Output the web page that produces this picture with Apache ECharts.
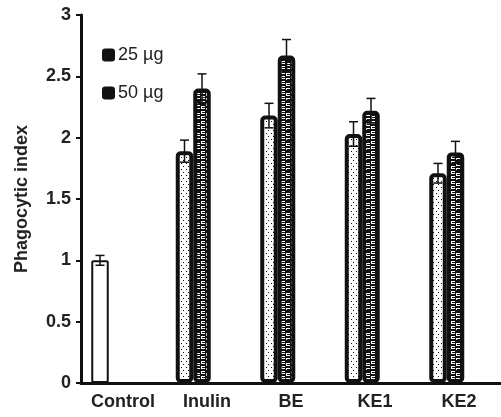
<!DOCTYPE html>
<html><head><meta charset="utf-8">
<script src="https://cdn.jsdelivr.net/npm/echarts@6/dist/echarts.min.js"></script>
<style>html,body{margin:0;padding:0;background:#fff}#c{width:501px;height:417px}</style>
</head><body><div id="c"></div>
<script>
const categories = ['Control', 'Inulin', 'BE', 'KE1', 'KE2'];
const controlValue = 1.00, controlErr = 0.04;
const dose25 = [null, 1.89, 2.18, 2.03, 1.71];
const dose25Err = [null, 0.09, 0.10, 0.10, 0.08];
const dose50 = [null, 2.40, 2.67, 2.22, 1.88];
const dose50Err = [null, 0.12, 0.13, 0.10, 0.09];
const yTicks = [0, 0.5, 1, 1.5, 2, 2.5, 3];
const seriesNames = ['25 µg', '50 µg'];

function makeDots() {
  const c = document.createElement('canvas'); c.width = 5; c.height = 6;
  const g = c.getContext('2d');
  g.fillStyle = '#fff'; g.fillRect(0, 0, 5, 6);
  g.fillStyle = '#111';
  g.fillRect(1, 1, 1, 1); g.fillRect(3, 4, 1, 1);
  return c;
}
function makeSquares() {
  const c = document.createElement('canvas'); c.width = 10; c.height = 10;
  const g = c.getContext('2d');
  g.fillStyle = '#111'; g.fillRect(0, 0, 10, 10);
  function sq(x, y) {
    g.fillStyle = '#fff'; g.fillRect(x, y, 4, 3);
    g.fillStyle = '#111'; g.fillRect(x + 1, y + 1, 3, 1);
  }
  sq(1, 1); sq(1, 6); sq(6, 3); sq(6, 8);
  return c;
}
const dotPattern = { image: makeDots(), repeat: 'repeat' };
const squarePattern = { image: makeSquares(), repeat: 'repeat' };

const BAR_W = 17.5, BAR_GAP = 0;
const slotOffset = BAR_W * (1 + BAR_GAP) / 2;

const data25 = dose25.map((v, i) => i === 0
  ? { value: controlValue, itemStyle: { color: '#fff', borderWidth: 2, borderRadius: 1 } }
  : v);
const err25 = dose25.map((v, i) => i === 0 ? [i, controlValue, controlErr] : [i, v, dose25Err[i]]);
const err50 = dose50.map((v, i) => v == null ? null : [i, v, dose50Err[i]]).filter(d => d);

function errRender(offset) {
  return function (params, api) {
    const x = api.coord([api.value(0), 0])[0] + offset;
    const yHi = api.coord([0, api.value(1) + api.value(2)])[1];
    const yLo = api.coord([0, api.value(1) - api.value(2)])[1];
    const st = { stroke: '#111', lineWidth: 1.5 };
    return { type: 'group', children: [
      { type: 'line', shape: { x1: x, y1: yHi, x2: x, y2: yLo }, style: st },
      { type: 'line', shape: { x1: x - 4.5, y1: yHi, x2: x + 4.5, y2: yHi }, style: st },
      { type: 'line', shape: { x1: x - 4.5, y1: yLo, x2: x + 4.5, y2: yLo }, style: st }
    ]};
  };
}

const font = 'Liberation Sans, Arial, Helvetica, sans-serif';
const chart = echarts.init(document.getElementById('c'), null, { renderer: 'canvas' });
chart.setOption({
  animation: false,
  backgroundColor: '#fff',
  grid: [
    { left: 81, right: -2.5, top: 15, bottom: 34 },
    { left: 66.5, right: 12, top: 15, bottom: 34 }
  ],
  legend: {
    orient: 'vertical', left: 97, top: 41, itemWidth: 13, itemHeight: 13,
    itemGap: 20, icon: 'roundRect',
    textStyle: { fontFamily: font, fontSize: 18, color: '#222', padding: [0, 0, 0, -2] },
    data: seriesNames.map(n => ({ name: n, itemStyle: { color: '#111', borderWidth: 0 } }))
  },
  xAxis: [
    { type: 'category', gridIndex: 0, data: categories,
      axisLine: { lineStyle: { color: '#111', width: 3 } },
      axisTick: { length: 5, lineStyle: { color: '#111', width: 2 } },
      axisLabel: { fontFamily: font, fontSize: 18, fontWeight: 'bold', color: '#222', margin: 10 } },
    { type: 'category', gridIndex: 1, data: categories, show: false }
  ],
  yAxis: [
    { type: 'value', gridIndex: 0, min: 0, max: 3, interval: 0.5,
      name: 'Phagocytic index', nameLocation: 'middle', nameGap: 50,
      nameTextStyle: { fontFamily: font, fontSize: 18, fontWeight: 'bold', color: '#222' },
      axisLine: { show: true, lineStyle: { color: '#111', width: 3 } },
      axisTick: { show: true, length: 5, lineStyle: { color: '#111', width: 2 } },
      splitLine: { show: false },
      axisLabel: { fontFamily: font, fontSize: 18, fontWeight: 'bold', color: '#222', margin: 10,
        formatter: v => yTicks.includes(v) ? String(v) : '' } },
    { type: 'value', gridIndex: 1, min: 0, max: 3, show: false }
  ],
  series: [
    { name: seriesNames[0], type: 'bar', xAxisIndex: 1, yAxisIndex: 1, data: data25,
      barWidth: BAR_W, barGap: (BAR_GAP * 100) + '%',
      itemStyle: { color: dotPattern, borderColor: '#111', borderWidth: 4, borderRadius: 3 } },
    { name: seriesNames[1], type: 'bar', xAxisIndex: 1, yAxisIndex: 1, data: dose50,
      barWidth: BAR_W,
      itemStyle: { color: squarePattern, borderColor: '#111', borderWidth: 4, borderRadius: 3 } },
    { type: 'custom', xAxisIndex: 1, yAxisIndex: 1, data: err25, z: 5,
      renderItem: errRender(-slotOffset) },
    { type: 'custom', xAxisIndex: 1, yAxisIndex: 1, data: err50, z: 5,
      renderItem: errRender(slotOffset) }
  ]
});
</script></body></html>
